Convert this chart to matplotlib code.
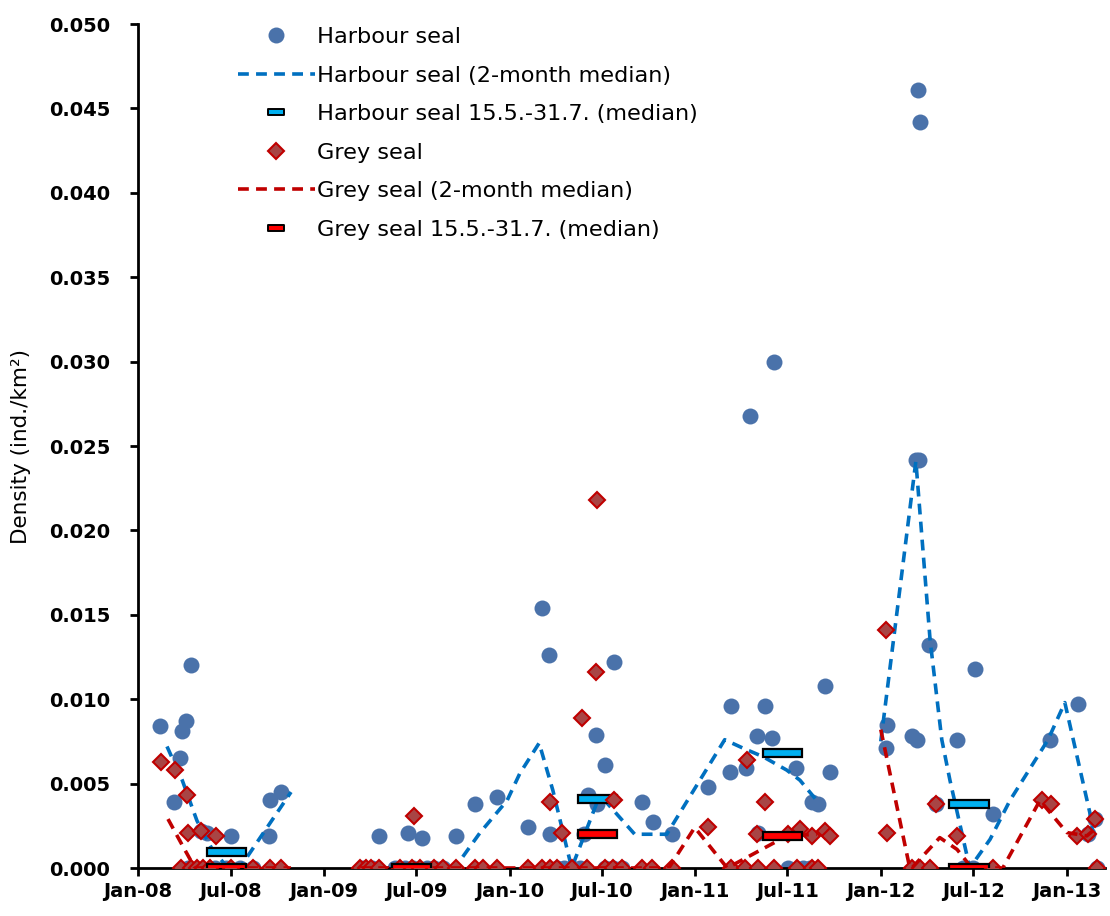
import matplotlib
matplotlib.use('Agg')
import numpy as np
import pandas as pd
import matplotlib.pyplot as plt
import matplotlib.dates as mdates
from matplotlib.lines import Line2D
from matplotlib.path import Path

plt.rcParams['font.family'] = ['DejaVu Sans']

# harbour seal single counts
harbour_dates = [
    '2008-02-14', '2008-03-12', '2008-03-24', '2008-03-28', '2008-04-04', '2008-04-14',
    '2008-05-04', '2008-05-16', '2008-07-02', '2008-09-15', '2008-09-17', '2008-10-08',
    '2008-04-08', '2008-05-31', '2008-06-22', '2008-07-19', '2008-08-14',
    '2009-04-19', '2009-06-15', '2009-07-12', '2009-09-17', '2009-10-25', '2009-12-07',
    '2009-03-18', '2009-04-05', '2009-05-20', '2009-06-09', '2009-06-25', '2009-07-22',
    '2009-08-05', '2009-08-23',
    '2010-02-06', '2010-03-05', '2010-03-19', '2010-03-21', '2010-05-27', '2010-06-04',
    '2010-06-20', '2010-06-22', '2010-07-07', '2010-07-25', '2010-09-18', '2010-10-10',
    '2010-11-16',
    '2010-04-04', '2010-04-18', '2010-05-03', '2010-05-19', '2010-07-08', '2010-07-23',
    '2010-08-10',
    '2011-01-26', '2011-03-10', '2011-03-12', '2011-04-11', '2011-04-19', '2011-05-02',
    '2011-05-04', '2011-05-18', '2011-06-01', '2011-06-05', '2011-07-18', '2011-08-18',
    '2011-08-30', '2011-09-13', '2011-09-23',
    '2011-07-02', '2011-08-01', '2011-08-15',
    '2012-01-11', '2012-01-13', '2012-03-02', '2012-03-10', '2012-03-12', '2012-03-14',
    '2012-03-16', '2012-03-18', '2012-04-05', '2012-04-19', '2012-05-30', '2012-07-04',
    '2012-08-08', '2012-11-28', '2013-01-23', '2013-02-11', '2013-02-25', '2013-03-01',
    '2012-06-10', '2012-06-30',
]
harbour_vals = [
    0.0084, 0.0039, 0.0065, 0.0081, 0.0087, 0.0120,
    0.0022, 0.0021, 0.0019, 0.0019, 0.0040, 0.0045,
    0, 0, 0, 0, 0,
    0.0019, 0.0021, 0.0018, 0.0019, 0.0038, 0.0042,
    0, 0, 0, 0, 0, 0,
    0, 0,
    0.0024, 0.0154, 0.0126, 0.0020, 0.0020, 0.0043,
    0.0079, 0.0038, 0.0061, 0.0122, 0.0039, 0.0027,
    0.0020,
    0, 0, 0, 0, 0, 0,
    0,
    0.0048, 0.0057, 0.0096, 0.0059, 0.0268, 0.0078,
    0.0021, 0.0096, 0.0077, 0.0300, 0.0059, 0.0039,
    0.0038, 0.0108, 0.0057,
    0, 0, 0,
    0.0071, 0.0085, 0.0078, 0.0242, 0.0076, 0.0461,
    0.0242, 0.0442, 0.0132, 0.0038, 0.0076, 0.0118,
    0.0032, 0.0076, 0.0097, 0.0020, 0.0029, 0.0,
    0, 0,
]

# grey seal single counts
grey_dates = [
    '2008-02-15', '2008-03-13', '2008-04-06', '2008-04-08', '2008-05-04', '2008-06-02',
    '2008-03-26', '2008-04-14', '2008-04-26', '2008-05-08', '2008-05-22', '2008-07-02',
    '2008-08-14', '2008-09-17', '2008-10-08',
    '2009-06-27',
    '2009-03-13', '2009-03-24', '2009-04-03', '2009-04-19', '2009-05-30', '2009-06-23',
    '2009-07-09', '2009-08-05', '2009-08-23', '2009-09-17', '2009-10-25', '2009-11-09',
    '2009-12-07',
    '2010-03-21', '2010-04-14', '2010-05-23', '2010-06-20', '2010-06-21', '2010-07-25',
    '2010-02-06', '2010-03-05', '2010-03-21', '2010-04-04', '2010-05-03', '2010-06-02',
    '2010-07-08', '2010-07-23', '2010-08-10', '2010-09-18', '2010-10-08', '2010-11-16',
    '2011-01-26', '2011-04-13', '2011-05-02', '2011-05-18', '2011-07-02', '2011-07-26',
    '2011-08-18', '2011-09-13', '2011-09-23',
    '2011-03-12', '2011-04-09', '2011-05-04', '2011-06-05', '2011-07-20', '2011-08-18',
    '2011-08-30',
    '2012-01-11', '2012-01-13', '2012-04-19', '2012-05-30', '2012-11-13', '2012-11-30',
    '2013-01-21', '2013-02-11', '2013-02-25',
    '2012-03-02', '2012-03-18', '2012-04-07', '2012-08-08', '2013-03-01',
]
grey_vals = [
    0.0063, 0.0058, 0.0043, 0.0021, 0.0022, 0.0019,
    0, 0, 0, 0, 0, 0,
    0, 0, 0,
    0.0031,
    0, 0, 0, 0, 0, 0,
    0, 0, 0, 0, 0, 0,
    0,
    0.0039, 0.0021, 0.0089, 0.0116, 0.0218, 0.0040,
    0, 0, 0, 0, 0, 0,
    0, 0, 0, 0, 0, 0,
    0.0024, 0.0064, 0.0020, 0.0039, 0.0020, 0.0023,
    0.0019, 0.0022, 0.0019,
    0, 0, 0, 0, 0, 0,
    0,
    0.0141, 0.0021, 0.0038, 0.0019, 0.0040, 0.0038,
    0.0019, 0.0020, 0.0029,
    0, 0, 0, 0, 0,
]

# 2-month running medians (nan = gap in the survey)
harbour_med_dates = [
    '2008-02-27', '2008-03-28', '2008-04-26', '2008-05-26', '2008-06-26', '2008-07-19',
    '2008-10-28', '2009-01-01',
    '2009-03-13', '2009-09-15', '2009-11-04', '2009-12-27', '2010-01-21', '2010-02-28',
    '2010-03-27', '2010-05-03', '2010-06-22', '2010-07-07', '2010-09-04', '2010-11-06',
    '2011-02-28', '2011-04-05', '2011-05-14', '2011-06-30', '2011-07-26', '2011-08-28',
    '2011-10-15',
    '2012-01-01', '2012-03-10', '2012-04-07', '2012-04-30', '2012-05-16', '2012-06-24',
    '2012-08-03', '2012-09-11', '2012-11-25', '2012-12-28', '2013-02-15', '2013-02-21',
]
harbour_med_vals = [
    0.0072, 0.0052, 0.0028, 0.0011, 0.0, 0.0,
    0.0045, np.nan,
    0.0, 0.0, 0.0021, 0.0040, 0.0056, 0.0074,
    0.0046, 0.0, 0.0039, 0.0040, 0.0020, 0.0020,
    0.0076, 0.0071, 0.0066, 0.0058, 0.0052, 0.0040,
    np.nan,
    0.0075, 0.0241, 0.0135, 0.0076, 0.0052, 0.0,
    0.0017, 0.0040, 0.0076, 0.0098, 0.0033, 0.0021,
]

grey_med_dates = [
    '2008-02-29', '2008-03-29', '2008-04-22', '2008-10-28', '2009-01-01',
    '2009-03-13', '2010-11-10', '2010-12-31', '2011-03-05', '2011-06-30', '2011-08-28',
    '2011-10-15',
    '2012-01-01', '2012-02-27', '2012-03-02', '2012-04-26', '2012-05-30', '2012-06-28',
    '2012-08-28', '2012-11-09', '2013-01-01', '2013-02-09', '2013-02-21',
]
grey_med_vals = [
    0.0029, 0.0013, 0.0, 0.0, np.nan,
    0.0, 0.0, 0.0024, 0.0, 0.0019, 0.0020,
    np.nan,
    0.0082, 0.0, 0.0, 0.0018, 0.0011, 0.0,
    0.0, 0.0040, 0.0021, 0.0019, 0.0022,
]

# medians of the 15.5.-31.7. period
summer_years = [2008, 2009, 2010, 2011, 2012]
harbour_summer = [0.00095, 0.0, 0.0041, 0.0068, 0.0038]
grey_summer = [0.0, 0.0, 0.0020, 0.0019, 0.0]

blue_pt = '#4A72AA'
blue_ln = '#0070C0'
red_fill = '#A84545'
red_edge = '#C00000'
red_ln = '#C00000'

fig = plt.figure(figsize=(11.1, 9.16), dpi=100)
ax = fig.add_axes([138 / 1110, 48 / 916, 967 / 1110, 844 / 916])

ax.plot(pd.to_datetime(harbour_dates), harbour_vals, 'o', color=blue_pt,
        markersize=11.5, markeredgewidth=0, zorder=2)
ax.plot(pd.to_datetime(harbour_med_dates), harbour_med_vals, color=blue_ln,
        lw=2.6, dashes=(3, 2), zorder=3)

bar_h = 0.0005
starts = mdates.date2num(pd.to_datetime([f'{y}-05-15' for y in summer_years]))
ends = mdates.date2num(pd.to_datetime([f'{y}-07-31' for y in summer_years]))
ax.bar(starts, bar_h, width=ends - starts, bottom=np.array(harbour_summer) - bar_h / 2,
       align='edge', color='#00B0F0', edgecolor='black', linewidth=1.6, zorder=4)

ax.plot(pd.to_datetime(grey_dates), grey_vals, 'D', markerfacecolor=red_fill,
        markeredgecolor=red_edge, markeredgewidth=1.5, markersize=8.5, zorder=5)
ax.plot(pd.to_datetime(grey_med_dates), grey_med_vals, color=red_ln,
        lw=2.6, dashes=(3, 2), zorder=6)
ax.bar(starts, bar_h, width=ends - starts, bottom=np.array(grey_summer) - bar_h / 2,
       align='edge', color='#FF0000', edgecolor='black', linewidth=1.6, zorder=7)

ax.set_xlim(pd.Timestamp('2008-01-01'), pd.Timestamp('2013-03-17'))
ax.set_ylim(0, 0.050)
ax.set_yticks(np.arange(0, 0.0501, 0.005))
ax.yaxis.set_major_formatter(plt.FormatStrFormatter('%.3f'))
ax.xaxis.set_major_locator(mdates.MonthLocator(bymonth=[1, 7]))
ax.xaxis.set_major_formatter(mdates.DateFormatter('%b-%y'))

for s in ['top', 'right']:
    ax.spines[s].set_visible(False)
for s in ['left', 'bottom']:
    ax.spines[s].set_linewidth(2)
ax.tick_params(axis='both', direction='out', length=6, width=2, labelsize=14)
ax.tick_params(axis='y', pad=14)
ax.tick_params(axis='x', pad=4)
for lab in ax.get_xticklabels() + ax.get_yticklabels():
    lab.set_fontweight('bold')

ax.set_ylabel('Density (ind./km²)', fontsize=15.5)
ax.yaxis.set_label_coords(-0.111, 0.5)

bar_marker = Path([(-1, -0.38), (1, -0.38), (1, 0.38), (-1, 0.38), (-1, -0.38)],
                  [Path.MOVETO, Path.LINETO, Path.LINETO, Path.LINETO, Path.CLOSEPOLY])
handles = [
    Line2D([], [], ls='none', marker='o', color=blue_pt, markersize=11.5, markeredgewidth=0),
    Line2D([], [], color=blue_ln, lw=2.6, dashes=(3, 2)),
    Line2D([], [], ls='none', marker=bar_marker, markersize=12, markerfacecolor='#00B0F0',
           markeredgecolor='black', markeredgewidth=1.4),
    Line2D([], [], ls='none', marker='D', markerfacecolor=red_fill, markeredgecolor=red_edge,
           markeredgewidth=1.5, markersize=8.5),
    Line2D([], [], color=red_ln, lw=2.6, dashes=(3, 2)),
    Line2D([], [], ls='none', marker=bar_marker, markersize=12, markerfacecolor='#FF0000',
           markeredgecolor='black', markeredgewidth=1.4),
]
labels = ['Harbour seal', 'Harbour seal (2-month median)', 'Harbour seal 15.5.-31.7. (median)',
          'Grey seal', 'Grey seal (2-month median)', 'Grey seal 15.5.-31.7. (median)']
ax.legend(handles, labels, loc='upper left', bbox_to_anchor=(100 / 967, 0.9964),
          frameon=False, fontsize=16.1, handlelength=3.44, handletextpad=0.1,
          labelspacing=0.83, borderpad=0, borderaxespad=0)

fig.savefig('out.png', dpi=100)
